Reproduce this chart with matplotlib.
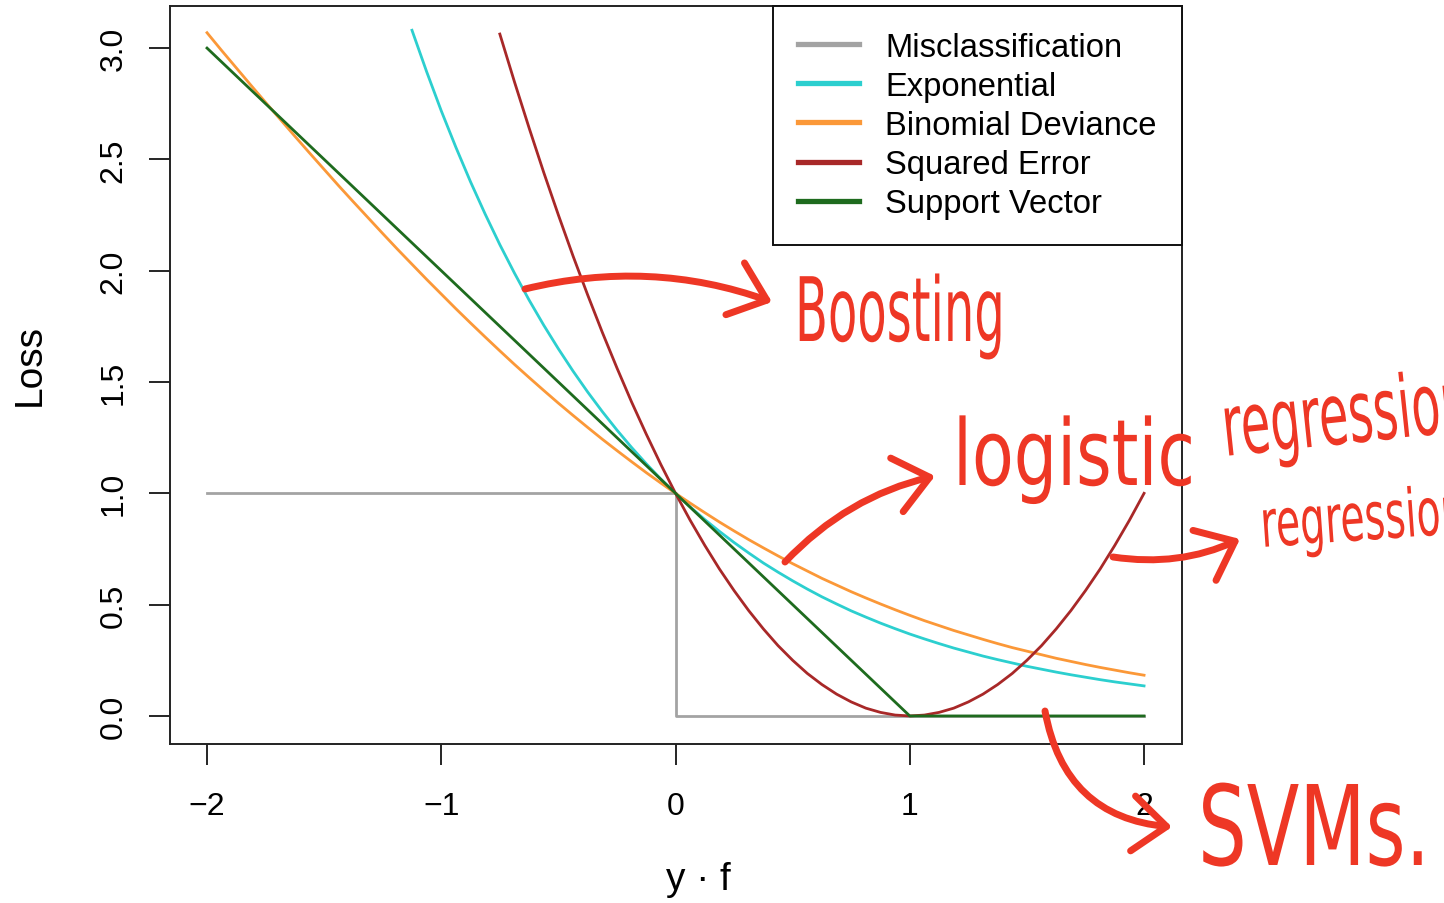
import numpy as np
import matplotlib
matplotlib.use("Agg")
import matplotlib.pyplot as plt
from matplotlib import patheffects
from matplotlib.patches import FancyArrowPatch
from matplotlib.transforms import Affine2D, IdentityTransform

x_grid = np.linspace(-2, 2, 65)
binomial = [3.069, 2.989, 2.911, 2.833, 2.756, 2.680, 2.604, 2.529, 2.455,
            2.381, 2.309, 2.238, 2.167, 2.097, 2.029, 1.961, 1.895, 1.829,
            1.765, 1.702, 1.640, 1.579, 1.520, 1.462, 1.405, 1.350, 1.296,
            1.243, 1.192, 1.142, 1.093, 1.046, 1.000, 0.956, 0.913, 0.871,
            0.831, 0.792, 0.755, 0.719, 0.684, 0.651, 0.618, 0.588, 0.558,
            0.530, 0.503, 0.477, 0.452, 0.428, 0.406, 0.384, 0.364, 0.344,
            0.325, 0.307, 0.291, 0.275, 0.259, 0.245, 0.231, 0.218, 0.206,
            0.194, 0.183]
x_expo = x_grid[14:]
exponential = [3.080, 2.894, 2.718, 2.554, 2.399, 2.254, 2.117, 1.989, 1.868,
               1.755, 1.649, 1.549, 1.455, 1.367, 1.284, 1.206, 1.133, 1.064,
               1.000, 0.939, 0.882, 0.829, 0.779, 0.732, 0.687, 0.646, 0.607,
               0.570, 0.535, 0.503, 0.472, 0.444, 0.417, 0.392, 0.368, 0.346,
               0.325, 0.305, 0.287, 0.269, 0.253, 0.238, 0.223, 0.210, 0.197,
               0.185, 0.174, 0.163, 0.153, 0.144, 0.135]
x_sq = x_grid[20:]
squared = [3.063, 2.848, 2.641, 2.441, 2.250, 2.066, 1.891, 1.723, 1.563,
           1.410, 1.266, 1.129, 1.000, 0.879, 0.766, 0.660, 0.563, 0.473,
           0.391, 0.316, 0.250, 0.191, 0.141, 0.098, 0.063, 0.035, 0.016,
           0.004, 0.000, 0.004, 0.016, 0.035, 0.063, 0.098, 0.141, 0.191,
           0.250, 0.316, 0.391, 0.473, 0.563, 0.660, 0.766, 0.879, 1.000]
x_svm = [-2, 1, 2]
svm = [3, 0, 0]
x_mis = [-2, 0, 0, 2]
mis = [1, 1, 0, 0]

labels = ["Misclassification", "Exponential", "Binomial Deviance",
          "Squared Error", "Support Vector"]
colors = ["#a3a3a3", "#2ccfcf", "#fb9838", "#a82828", "#1e6b1e"]

W, H = 1444, 904
RED = "#ee3725"
plt.rcParams['font.family'] = ['Liberation Sans', 'DejaVu Sans']

fig = plt.figure(figsize=(W / 100, H / 100), dpi=100)
ax = fig.add_axes([170 / W, 159 / H, 1012 / W, 738 / H])

ax.plot(x_mis, mis, color=colors[0], lw=2)
ax.plot(x_expo, exponential, color=colors[1], lw=2)
ax.plot(x_grid, binomial, color=colors[2], lw=2)
ax.plot(x_sq, squared, color=colors[3], lw=2)
ax.plot(x_svm, svm, color=colors[4], lw=2)

ax.set_xlim(-2.158, 2.162)
ax.set_ylim(-0.126, 3.189)
ax.set_xticks([-2, -1, 0, 1, 2])
ax.set_xticklabels(["\u22122", "\u22121", "0", "1", "2"])
ax.set_yticks([0, 0.5, 1, 1.5, 2, 2.5, 3])
ax.set_yticklabels(["0.0", "0.5", "1.0", "1.5", "2.0", "2.5", "3.0"],
                   rotation=90, va='center')
ax.tick_params(axis='x', length=15, width=1.2, pad=19, labelsize=23)
ax.tick_params(axis='y', length=15, width=1.2, pad=15, labelsize=23)
for s in ax.spines.values():
    s.set_linewidth(1.4)
    s.set_color("#222222")

fig.text(30 / W, 1 - 365 / H, "Loss", rotation=90, fontsize=28,
         ha='center', va='center')
fig.text(698 / W, 1 - 880 / H, "y \u00b7 f", fontsize=28,
         ha='center', va='center')

handles = [plt.Line2D([], [], color=c, lw=3.8) for c in colors]
leg = ax.legend(handles, labels, loc='upper right', bbox_to_anchor=(1, 1),
                borderaxespad=0, fontsize=23.6, handlelength=1.85,
                handletextpad=0.8, labelspacing=0.25, borderpad=0.78,
                fancybox=False, framealpha=1, edgecolor="#111111")
leg.get_frame().set_linewidth(1.4)


# squeeze glyphs horizontally so the scribbles look handwritten-narrow
class Squeeze(patheffects.AbstractPathEffect):
    def __init__(self, sx, x0, y0, rot):
        super().__init__()
        self.t = (Affine2D().translate(-x0, -y0).rotate_deg(-rot)
                  .scale(sx, 1).rotate_deg(rot).translate(x0, y0))

    def draw_path(self, renderer, gc, tpath, affine, rgbFace=None):
        renderer.draw_path(gc, tpath, affine + self.t, rgbFace)


renderer = fig.canvas.get_renderer()


def scribble(txt, x, y, size, width, rot=0):
    t = fig.text(x / W, 1 - y / H, txt, fontsize=size, color=RED,
                 ha='left', va='baseline', family='DejaVu Sans')
    w = t.get_window_extent(renderer).width
    t.set_rotation(rot)
    t.set_rotation_mode('anchor')
    t.set_path_effects([Squeeze(width / w, x, H - y, rot)])
    return t


scribble("Boosting", 795, 342, 64, 210)
scribble("logistic", 953, 486, 66, 242)
scribble("regression", 1225, 457, 62, 250, rot=6)
scribble("regression", 1262, 548, 48, 205, rot=4)
scribble("SVMs.", 1198, 866, 80, 232)


def arrow(p0, p1, rad):
    a = FancyArrowPatch((p0[0], H - p0[1]), (p1[0], H - p1[1]),
                        transform=IdentityTransform(),
                        arrowstyle='->,head_length=1.1,head_width=0.9',
                        mutation_scale=22, connectionstyle=f'arc3,rad={rad}',
                        color=RED, lw=5, shrinkA=0, shrinkB=0,
                        capstyle='round', joinstyle='round')
    fig.add_artist(a)


arrow((525, 290), (772, 303), -0.15)
arrow((785, 563), (935, 477), -0.15)
arrow((1113, 558), (1240, 540), 0.15)
arrow((1045, 712), (1172, 828), 0.38)

fig.savefig("out.png", dpi=100)
